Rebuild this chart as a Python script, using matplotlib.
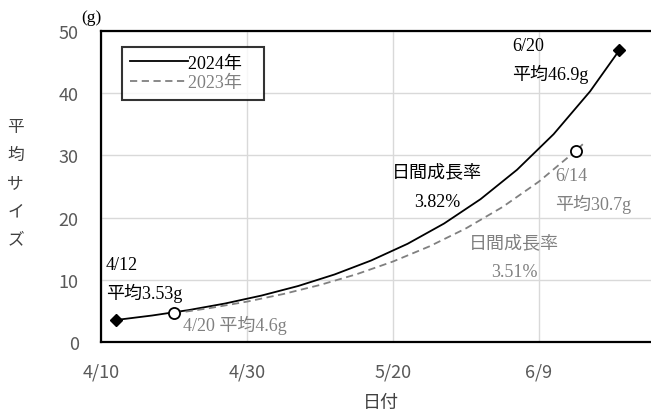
from datetime import date, datetime, timedelta

import matplotlib

matplotlib.use("Agg")
import matplotlib.dates as mdates
import matplotlib.pyplot as plt
from matplotlib.ticker import FuncFormatter

plt.rcParams["font.family"] = ["Noto Sans CJK JP", "DejaVu Sans"]

SERIF = ["Liberation Serif", "Noto Sans CJK JP"]
GRAY = "#808080"

# average size (g)
dates_2024 = ["04-12", "04-17", "04-22", "04-27", "05-02", "05-07", "05-12", "05-17",
              "05-22", "05-27", "06-01", "06-06", "06-11", "06-16", "06-20"]
size_2024 = [3.53, 4.26, 5.13, 6.19, 7.47, 9.00, 10.86, 13.10,
             15.79, 19.05, 22.97, 27.70, 33.41, 40.3, 46.9]

dates_2023 = ["04-20", "04-25", "04-30", "05-05", "05-10", "05-15", "05-20",
              "05-25", "05-30", "06-04", "06-09", "06-14", "06-15"]
size_2023 = [4.6, 5.47, 6.49, 7.72, 9.17, 10.89, 12.94,
             15.38, 18.27, 21.7, 25.8, 30.7, 31.8]

x_ticks = ["04-10", "04-30", "05-20", "06-09"]
y_ticks = [0, 10, 20, 30, 40, 50]


def to_dates(values: list[str]) -> list[date]:
    return [date(2024, int(v[:2]), int(v[3:])) for v in values]


def day(month: int, dom: int, hour: int = 0) -> datetime:
    return datetime(2024, month, dom, hour)


d24 = to_dates(dates_2024)
d23 = to_dates(dates_2023)

fig = plt.figure(figsize=(6.51, 4.14), dpi=100)
# plot area runs past the right edge of the figure, as the frame is open there
ax = fig.add_axes([101 / 651, 71 / 414, 560 / 651, 311 / 414])

ax.plot(d24, size_2024, color="black", linewidth=1.3, label="2024年", zorder=3)
ax.plot(d23, size_2023, color=GRAY, linewidth=1.3, linestyle=(0, (4, 2.5)), label="2023年", zorder=3)

# end points of each season
ax.plot([d24[0], d24[-1]], [size_2024[0], size_2024[-1]], linestyle="none", marker="D",
        markersize=6.5, color="black", zorder=4)
ax.plot([d23[0], d23[-2]], [size_2023[0], size_2023[-2]], linestyle="none", marker="o",
        markersize=8, markerfacecolor="white", markeredgecolor="black", markeredgewidth=1.3, zorder=4)

x0 = datetime(2024, 4, 10)
ax.set_xlim(x0, x0 + timedelta(days=560 / 7.3))
ax.set_ylim(0, 50)
ax.set_xticks(to_dates(x_ticks))
ax.xaxis.set_major_formatter(FuncFormatter(lambda v, _p: f"{mdates.num2date(v).month}/{mdates.num2date(v).day}"))
ax.set_yticks(y_ticks)
ax.tick_params(length=0, labelsize=13, colors="#595959")
ax.tick_params(axis="y", pad=16)
ax.tick_params(axis="x", pad=15)
ax.grid(True, color="#d9d9d9", linewidth=1.0)
ax.set_axisbelow(True)
for side in ("left", "bottom", "top"):
    ax.spines[side].set_edgecolor("black")
    ax.spines[side].set_linewidth(1.6)
    ax.spines[side].set_zorder(5)
ax.spines["right"].set_visible(False)

ax.set_xlabel("日付", fontsize=13, color="#404040", labelpad=9)
fig.text(0.024, 0.556, "平\n均\nサ\nイ\nズ", fontsize=12, color="#404040",
         ha="center", va="center", linespacing=1.85)
fig.text(0.141, 0.956, "(g)", family=SERIF, fontsize=12.5, ha="center", va="center")

legend = ax.legend(loc="upper left", bbox_to_anchor=(0.038, 0.95), prop={"family": SERIF, "size": 13},
                   frameon=True, fancybox=False, handlelength=3.2, handletextpad=0.0,
                   borderpad=0.45, labelspacing=0.15, borderaxespad=0.0)
legend.get_frame().set_edgecolor("black")
legend.get_frame().set_linewidth(1.5)
legend.get_texts()[0].set_text("2024年   ")
legend.get_texts()[1].set_text("2023年   ")
legend.get_texts()[1].set_color(GRAY)

serif = {"family": SERIF, "fontsize": 13}
ax.text(day(4, 10, 16), 12.4, "4/12", color="black", va="center", ha="left", **serif)
ax.text(day(4, 10, 16), 8.0, "平均3.53g", color="black", va="center", ha="left", **serif)
ax.text(day(4, 21, 7), 2.8, "4/20 平均4.6g", color=GRAY, va="center", ha="left", **serif)
ax.text(day(6, 5, 8), 47.7, "6/20", color="black", va="center", ha="left", **serif)
ax.text(day(6, 5, 8), 43.2, "平均46.9g", color="black", va="center", ha="left", **serif)
ax.text(day(5, 26), 27.4, "日間成長率", color="black", va="center", ha="center", **serif)
ax.text(day(5, 26), 22.6, "3.82%", color="black", va="center", ha="center", **serif)
ax.text(day(6, 11, 6), 26.8, "6/14", color=GRAY, va="center", ha="left", **serif)
ax.text(day(6, 11, 6), 22.3, "平均30.7g", color=GRAY, va="center", ha="left", **serif)
ax.text(day(6, 5, 14), 15.9, "日間成長率", color=GRAY, va="center", ha="center", **serif)
ax.text(day(6, 5, 14), 11.3, "3.51%", color=GRAY, va="center", ha="center", **serif)

fig.savefig("out.png", dpi=100)
plt.close(fig)
